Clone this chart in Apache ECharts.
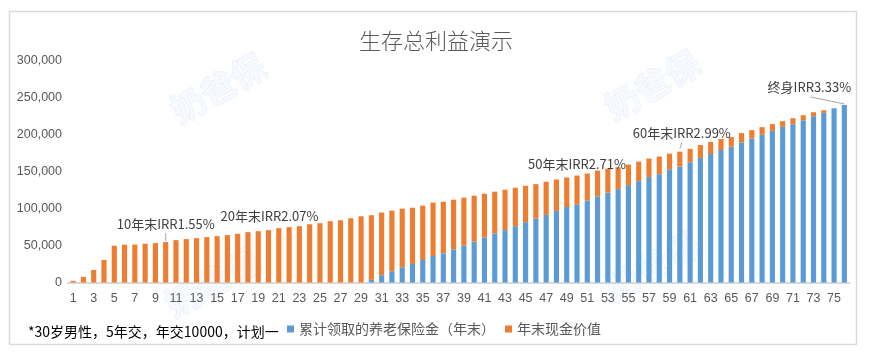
<!DOCTYPE html>
<html>
<head>
<meta charset="utf-8">
<script src="https://cdn.jsdelivr.net/npm/echarts@6/dist/echarts.min.js"></script>
<style>html,body{margin:0;padding:0;background:#fff}#c{width:872px;height:360px}</style>
</head>
<body>
<div id="c"></div>
<script>
// ---- data ----
const years = Array.from({length: 76}, (_, i) => String(i + 1));
const pensionCum = [
  0,0,0,0,0,0,0,0,0,0,
  0,0,0,0,0,0,0,0,0,0,
  0,0,0,0,0,0,0,0,0,3600,
  9900,15200,20600,25100,30500,35800,39400,44800,50200,55500,
  60900,66300,70800,76200,81600,86500,91400,96800,102100,105700,
  111100,116500,121800,126300,131700,137100,142500,146500,153200,156800,
  162600,168500,173800,179200,183700,189100,194500,199800,205200,210600,
  214200,219500,224900,229400,235700,240200
];
const cashValue = [
  2200,7600,17000,30500,49700,51100,51300,52400,53300,54700,
  57300,58700,60000,61400,62700,64100,65900,68100,69400,70800,
  73500,74800,76200,78800,80200,82900,84200,86900,89600,87400,
  84700,82000,79300,76100,73400,72200,69900,67200,64500,61900,
  59200,56500,54700,52000,49200,46500,44800,42500,39900,39000,
  36300,34900,32300,29600,27800,26400,25100,23800,21100,20200,
  18200,17400,16200,14800,13000,13000,11600,10300,9000,7600,
  8000,6800,5400,3600,0,0
];
const annoYears = [10, 20, 50, 60, 76];
const annoTexts = ['10年末IRR1.55%', '20年末IRR2.07%', '50年末IRR2.71%', '60年末IRR2.99%', '终身IRR3.33%'];
const seriesNames = ['累计领取的养老保险金（年末）', '年末现金价值'];
const titleText = '生存总利益演示';
const noteText = '*30岁男性，5年交，年交10000，计划一';

// ---- chart ----
const NUM_FONT = '"Liberation Sans Narrow","Liberation Sans",sans-serif';
const CJK_FONT = '"Noto Sans CJK SC","Liberation Sans",sans-serif';
const annoLayout = [
  {dx: 0, dy: -18, line: [0, -9, 0, -1]},
  {dx: 1, dy: -14, line: null},
  {dx: 0, dy: -11, line: null},
  {dx: 2, dy: -19, line: [2, -9, 0, -3]},
  {dx: -35, dy: -18, line: [-34, -8, 0, -1]}
];
const annoData = annoYears.map(y => [y - 1, pensionCum[y - 1] + cashValue[y - 1]]);

const chart = echarts.init(document.getElementById('c'), null, {renderer: 'canvas'});
const wm = (x, y) => ({
  type: 'text', x: x, y: y, rotation: 0.52, z: -10, silent: true,
  style: {text: '奶爸保', fontSize: 34, fontWeight: 'bold', fontFamily: CJK_FONT,
    fill: '#f6f9fd', stroke: '#e2ecf8', lineWidth: 1, align: 'center', verticalAlign: 'middle'}
});
chart.setOption({
  animation: false,
  backgroundColor: '#fff',
  title: {
    text: titleText, left: 'center', top: 25,
    textStyle: {fontSize: 22, fontWeight: 300, color: '#595959', fontFamily: CJK_FONT}
  },
  legend: {
    data: seriesNames, left: 282, top: 317, icon: 'rect', itemWidth: 7, itemHeight: 7,
    itemGap: 10, textStyle: {fontSize: 14, color: '#595959', fontFamily: CJK_FONT}
  },
  grid: {left: 68, right: 22.5, top: 60.7, bottom: 77.5, containLabel: false},
  xAxis: {
    type: 'category', data: years,
    axisLine: {lineStyle: {color: '#d9d9d9', width: 2}},
    axisTick: {show: false},
    axisLabel: {interval: 1, margin: 10, fontSize: 12.5, color: '#595959', fontFamily: NUM_FONT}
  },
  yAxis: {
    type: 'value', min: 0, max: 300000, interval: 50000,
    axisLine: {show: false}, axisTick: {show: false}, splitLine: {show: false},
    axisLabel: {margin: 6, fontSize: 12.5, color: '#595959', fontFamily: NUM_FONT,
      formatter: v => String(v).replace(/\B(?=(\d{3})+(?!\d))/g, ',')}
  },
  series: [
    {name: seriesNames[0], type: 'bar', stack: 'total', data: pensionCum, barWidth: '50%',
      itemStyle: {color: '#5B9BD5'}},
    {name: seriesNames[1], type: 'bar', stack: 'total', data: cashValue, barWidth: '50%',
      itemStyle: {color: '#ED7D31'}},
    {name: 'anno', type: 'custom', data: annoData, z: 5,
      renderItem: (params, api) => {
        const k = params.dataIndex;
        const p = api.coord([api.value(0), api.value(1)]);
        const o = annoLayout[k];
        const children = [{
          type: 'text', x: p[0] + o.dx, y: p[1] + o.dy,
          style: {text: annoTexts[k], fontSize: 13, fontFamily: CJK_FONT, fill: '#404040',
            align: 'center', verticalAlign: 'middle'}
        }];
        if (o.line) children.push({
          type: 'line',
          shape: {x1: p[0] + o.line[0], y1: p[1] + o.line[1], x2: p[0] + o.line[2], y2: p[1] + o.line[3]},
          style: {stroke: '#a6a6a6', lineWidth: 1}
        });
        return {type: 'group', children: children};
      }}
  ],
  graphic: [
    {type: 'rect', shape: {x: 9.5, y: 11.5, width: 847, height: 333}, z: -20, silent: true,
      style: {fill: '#fff', stroke: '#d9d9d9', lineWidth: 1.5}},
    wm(218, 88), wm(652, 85), wm(212, 282), wm(652, 266),
    {type: 'text', left: 28, top: 325, z: 10,
      style: {text: noteText, fontSize: 14, fontFamily: CJK_FONT, fill: '#000'}}
  ]
});
</script>
</body>
</html>
